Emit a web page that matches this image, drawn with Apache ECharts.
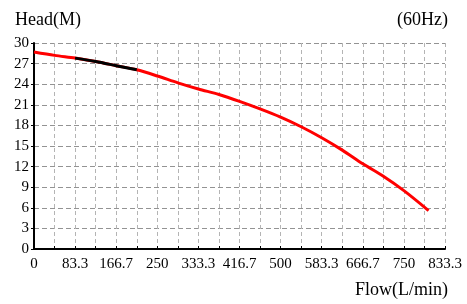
<!DOCTYPE html>
<html>
<head>
<meta charset="utf-8">
<script src="https://cdn.jsdelivr.net/npm/echarts@6/dist/echarts.min.js"></script>
<style>
  html, body { margin: 0; padding: 0; background: #fff; }
  #chart { width: 467px; height: 304px; }
</style>
</head>
<body>
<div id="chart"></div>
<script>
// 读图数据
const flowPoints = [0, 41.7, 83.3, 125, 166.7, 208.3, 250, 291.7, 333.3, 375, 416.7, 458.3, 500, 541.7, 583.3, 625, 666.7, 708.3, 750, 800];
const headValues = [28.7, 28.2, 27.8, 27.3, 26.7, 26.1, 25.2, 24.2, 23.3, 22.5, 21.5, 20.4, 19.2, 17.8, 16.2, 14.4, 12.4, 10.6, 8.5, 5.6];
// 黑色段范围 (flow)
const blackRange = [83.3, 208.3];
const xTickLabels = ['0', '83.3', '166.7', '250', '333.3', '416.7', '500', '583.3', '666.7', '750', '833.3'];
const yTicks = [0, 3, 6, 9, 12, 15, 18, 21, 24, 27, 30];

const xMax = 833.333;
const xStep = xMax / 10;
const font = '"Liberation Serif", serif';

const redData = flowPoints.map((f, i) => [f, headValues[i]]);
const blackData = redData.filter(p => p[0] >= blackRange[0] - 0.1 && p[0] <= blackRange[1] + 0.1);

const chart = echarts.init(document.getElementById('chart'));

const option = {
    animation: false,
    grid: { left: 34, right: 22, top: 43, bottom: 55 },
    xAxis: {
        type: 'value',
        min: 0,
        max: xMax,
        interval: xStep / 2,
        axisLine: { show: true, onZero: false, lineStyle: { color: '#000', width: 2 } },
        axisTick: { show: true, length: 3, inside: true, lineStyle: { color: '#000' } },
        axisLabel: {
            color: '#000',
            fontFamily: font,
            fontSize: 15,
            margin: 8,
            showMaxLabel: true,
            formatter: (v) => {
                const idx = Math.round(v / xStep);
                if (Math.abs(v - idx * xStep) > 0.5) return '';
                return xTickLabels[idx] || '';
            },
        },
        splitLine: { show: true, lineStyle: { color: '#b4b4b4', type: [4, 3], width: 1 } },
    },
    yAxis: {
        type: 'value',
        min: yTicks[0],
        max: yTicks[yTicks.length - 1],
        interval: 3,
        axisLine: { show: true, lineStyle: { color: '#000', width: 2 } },
        axisTick: { show: true, length: 3, lineStyle: { color: '#000' } },
        axisLabel: { color: '#000', fontFamily: font, fontSize: 15, margin: 5 },
        splitLine: { show: true, lineStyle: { color: '#939393', type: [5, 3], width: 1 } },
    },
    graphic: [
        { type: 'text', left: 15, top: 11, style: { text: 'Head(M)', font: '18px ' + font, fill: '#000' } },
        { type: 'text', right: 19, top: 11, style: { text: '(60Hz)', font: '18px ' + font, fill: '#000' } },
        { type: 'text', right: 19, top: 281, style: { text: 'Flow(L/min)', font: '18px ' + font, fill: '#000' } },
    ],
    series: [
        {
            type: 'line',
            data: redData,
            smooth: 0.3,
            symbol: 'none',
            lineStyle: { color: '#f00', width: 3 },
            z: 3,
        },
        {
            type: 'line',
            data: blackData,
            smooth: 0.3,
            symbol: 'none',
            lineStyle: { color: '#000', width: 3 },
            z: 4,
        },
    ],
};

chart.setOption(option);
</script>
</body>
</html>
